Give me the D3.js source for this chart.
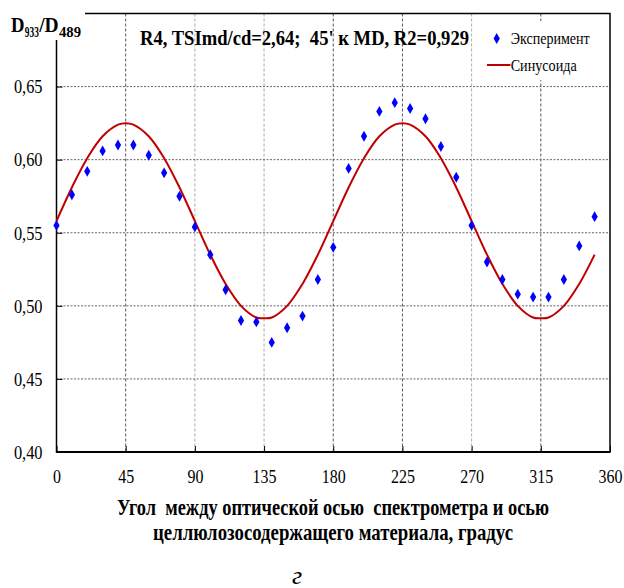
<!DOCTYPE html>
<html><head><meta charset="utf-8">
<script src="https://cdn.jsdelivr.net/npm/d3@7"></script>
<style>body{margin:0;background:#fff}svg{display:block}
svg text{font-family:"Liberation Serif","Times New Roman",serif !important;white-space:pre}</style>
</head><body>
<script>
// ---- data ----
const angles = [0,10,20,30,40,50,60,70,80,90,100,110,120,130,140,150,160,170,180,190,200,210,220,230,240,250,260,270,280,290,300,310,320,330,340,350];
const experiment = [0.555,0.576,0.592,0.606,0.610,0.610,0.603,0.591,0.575,0.554,0.535,0.511,0.490,0.489,0.475,0.485,0.493,0.518,0.540,0.594,0.616,0.633,0.639,0.635,0.628,0.609,0.588,0.555,0.530,0.518,0.508,0.506,0.506,0.518,0.541,0.561];
const fitAngles = [0,10,20,30,40,45,50,60,70,80,90,100,110,120,130,135,140,150,160,170,180,190,200,210,220,225,230,240,250,260,270,280,290,300,310,315,320,330,340,350];
const fitValues = [0.558,0.581,0.601,0.616,0.624,0.625,0.624,0.616,0.601,0.581,0.558,0.535,0.515,0.500,0.492,0.4915,0.492,0.500,0.515,0.535,0.558,0.581,0.601,0.616,0.624,0.625,0.624,0.616,0.601,0.581,0.558,0.535,0.515,0.500,0.492,0.4915,0.492,0.500,0.515,0.535];
const xTicks = [0,45,90,135,180,225,270,315,360];
const yTicks = [0.40,0.45,0.50,0.55,0.60,0.65];
const titleText = "R4, TSImd/cd=2,64;  45' к MD, R2=0,929";
const legendLabels = ["Эксперимент","Синусоида"];
const xTitle1 = "Угол  между оптической осью  спектрометра и осью";
const xTitle2 = "целлюлозосодержащего материала, градус";
const panelLabel = "г";

const W = 624, H = 588;
const FONT = "Liberation Serif";
const svg = d3.select("body").append("svg").attr("width",W).attr("height",H)
  .attr("font-family",FONT);

const x = d3.scaleLinear().domain([0,360]).range([56.5,610]);
const y = d3.scaleLinear().domain([0.40,0.70]).range([452,13.5]);

function squeeze(sel, f){
  sel.each(function(){
    const len = this.getComputedTextLength();
    d3.select(this).attr("textLength", len*f).attr("lengthAdjust","spacingAndGlyphs");
  });
}
function fitW(sel, w){ sel.attr("textLength", w).attr("lengthAdjust","spacingAndGlyphs"); }

// grid
const darkV = new Set([45,180,225,315]);
svg.append("g").selectAll("line").data(xTicks.filter(d=>d>0&&d<360)).join("line")
  .attr("x1",d=>x(d)).attr("x2",d=>x(d)).attr("y1",y(0.70)).attr("y2",y(0.40))
  .attr("stroke",d=>darkV.has(d)?"#555":"#aaa").attr("stroke-width",1)
  .attr("stroke-dasharray","3,2");
svg.append("g").selectAll("line").data(yTicks.filter(d=>d>0.40)).join("line")
  .attr("x1",x(0)).attr("x2",x(360)).attr("y1",d=>y(d)).attr("y2",d=>y(d))
  .attr("stroke","#666").attr("stroke-width",1).attr("stroke-dasharray","2,1.5");

// axes
const yAxis = svg.append("g").attr("transform",`translate(${x(0)},0)`)
  .call(d3.axisLeft(y).tickValues(yTicks).tickSizeInner(-6).tickSizeOuter(0).tickPadding(14)
    .tickFormat(d=>d.toFixed(2).replace(".",",")));
yAxis.attr("font-family",FONT);
yAxis.select(".domain").remove();
yAxis.selectAll(".tick line").attr("stroke","#000").attr("stroke-width",1);
yAxis.selectAll("text").attr("font-size",19).attr("fill","#000").attr("dy","0.33em");
squeeze(yAxis.selectAll("text"),0.86);

const xAxis = svg.append("g").attr("transform",`translate(0,${y(0.40)})`)
  .call(d3.axisBottom(x).tickValues(xTicks).tickSizeInner(-6).tickSizeOuter(0).tickPadding(18)
    .tickFormat(d3.format("d")));
xAxis.attr("font-family",FONT);
xAxis.select(".domain").remove();
xAxis.selectAll(".tick line").attr("stroke","#000").attr("stroke-width",1);
xAxis.selectAll("text").attr("font-size",19).attr("fill","#000");
squeeze(xAxis.selectAll("text"),0.84);

// frame
svg.append("rect").attr("x",x(0)).attr("y",y(0.70)).attr("width",x(360)-x(0)).attr("height",y(0.40)-y(0.70))
  .attr("fill","none").attr("stroke","#000").attr("stroke-width",1.5);
svg.append("line").attr("x1",x(0)).attr("x2",x(360)).attr("y1",y(0.40)).attr("y2",y(0.40))
  .attr("stroke","#000").attr("stroke-width",2);

// fit curve
const line = d3.line().x((d,i)=>x(fitAngles[i])).y(d=>y(d)).curve(d3.curveCatmullRom);
svg.append("path").datum(fitValues).attr("d",line)
  .attr("fill","none").attr("stroke","#c00000").attr("stroke-width",2);

// points
svg.append("g").selectAll("path").data(experiment).join("path")
  .attr("transform",(d,i)=>`translate(${x(angles[i])},${y(d)})`)
  .attr("d",d3.symbol(d3.symbolDiamond,34)).attr("fill","#0000ff");

// y label with white box
svg.append("rect").attr("x",0).attr("y",0).attr("width",85).attr("height",40).attr("fill","#fff");
const yl = svg.append("g").attr("font-weight","bold").attr("fill","#000");
yl.append("text").attr("x",11).attr("y",31.7).attr("font-size",20).text("D").call(fitW,13.5);
yl.append("text").attr("x",24.8).attr("y",36.5).attr("font-size",15).text("933").call(fitW,14);
yl.append("text").attr("x",39.2).attr("y",31.7).attr("font-size",20).text("/D").call(fitW,19.5);
yl.append("text").attr("x",59).attr("y",36.5).attr("font-size",15).text("489").call(fitW,22);

// title
svg.append("text").attr("x",140).attr("y",45).attr("font-size",20).attr("font-weight","bold")
  .text(titleText).call(fitW,329);

// legend
svg.append("rect").attr("x",484).attr("y",21).attr("width",118).attr("height",59).attr("fill","#fff");
svg.append("path").attr("transform","translate(496.7,38.5)").attr("d",d3.symbol(d3.symbolDiamond,34)).attr("fill","#0000ff");
svg.append("text").attr("x",510.7).attr("y",44).attr("font-size",17).text(legendLabels[0]).call(fitW,79);
svg.append("line").attr("x1",487).attr("x2",510.5).attr("y1",65).attr("y2",65).attr("stroke","#c00000").attr("stroke-width",2);
svg.append("text").attr("x",510.7).attr("y",71).attr("font-size",17).text(legendLabels[1]).call(fitW,66);

// x title
svg.append("text").attr("x",333).attr("y",515).attr("text-anchor","middle").attr("font-size",24).attr("font-weight","bold")
  .text(xTitle1).call(fitW,432);
svg.append("text").attr("x",333).attr("y",540).attr("text-anchor","middle").attr("font-size",24).attr("font-weight","bold")
  .text(xTitle2).call(fitW,360);
svg.append("text").attr("x",297).attr("y",584).attr("text-anchor","middle").attr("font-size",26).attr("font-style","italic")
  .text(panelLabel);
</script>
</body></html>
